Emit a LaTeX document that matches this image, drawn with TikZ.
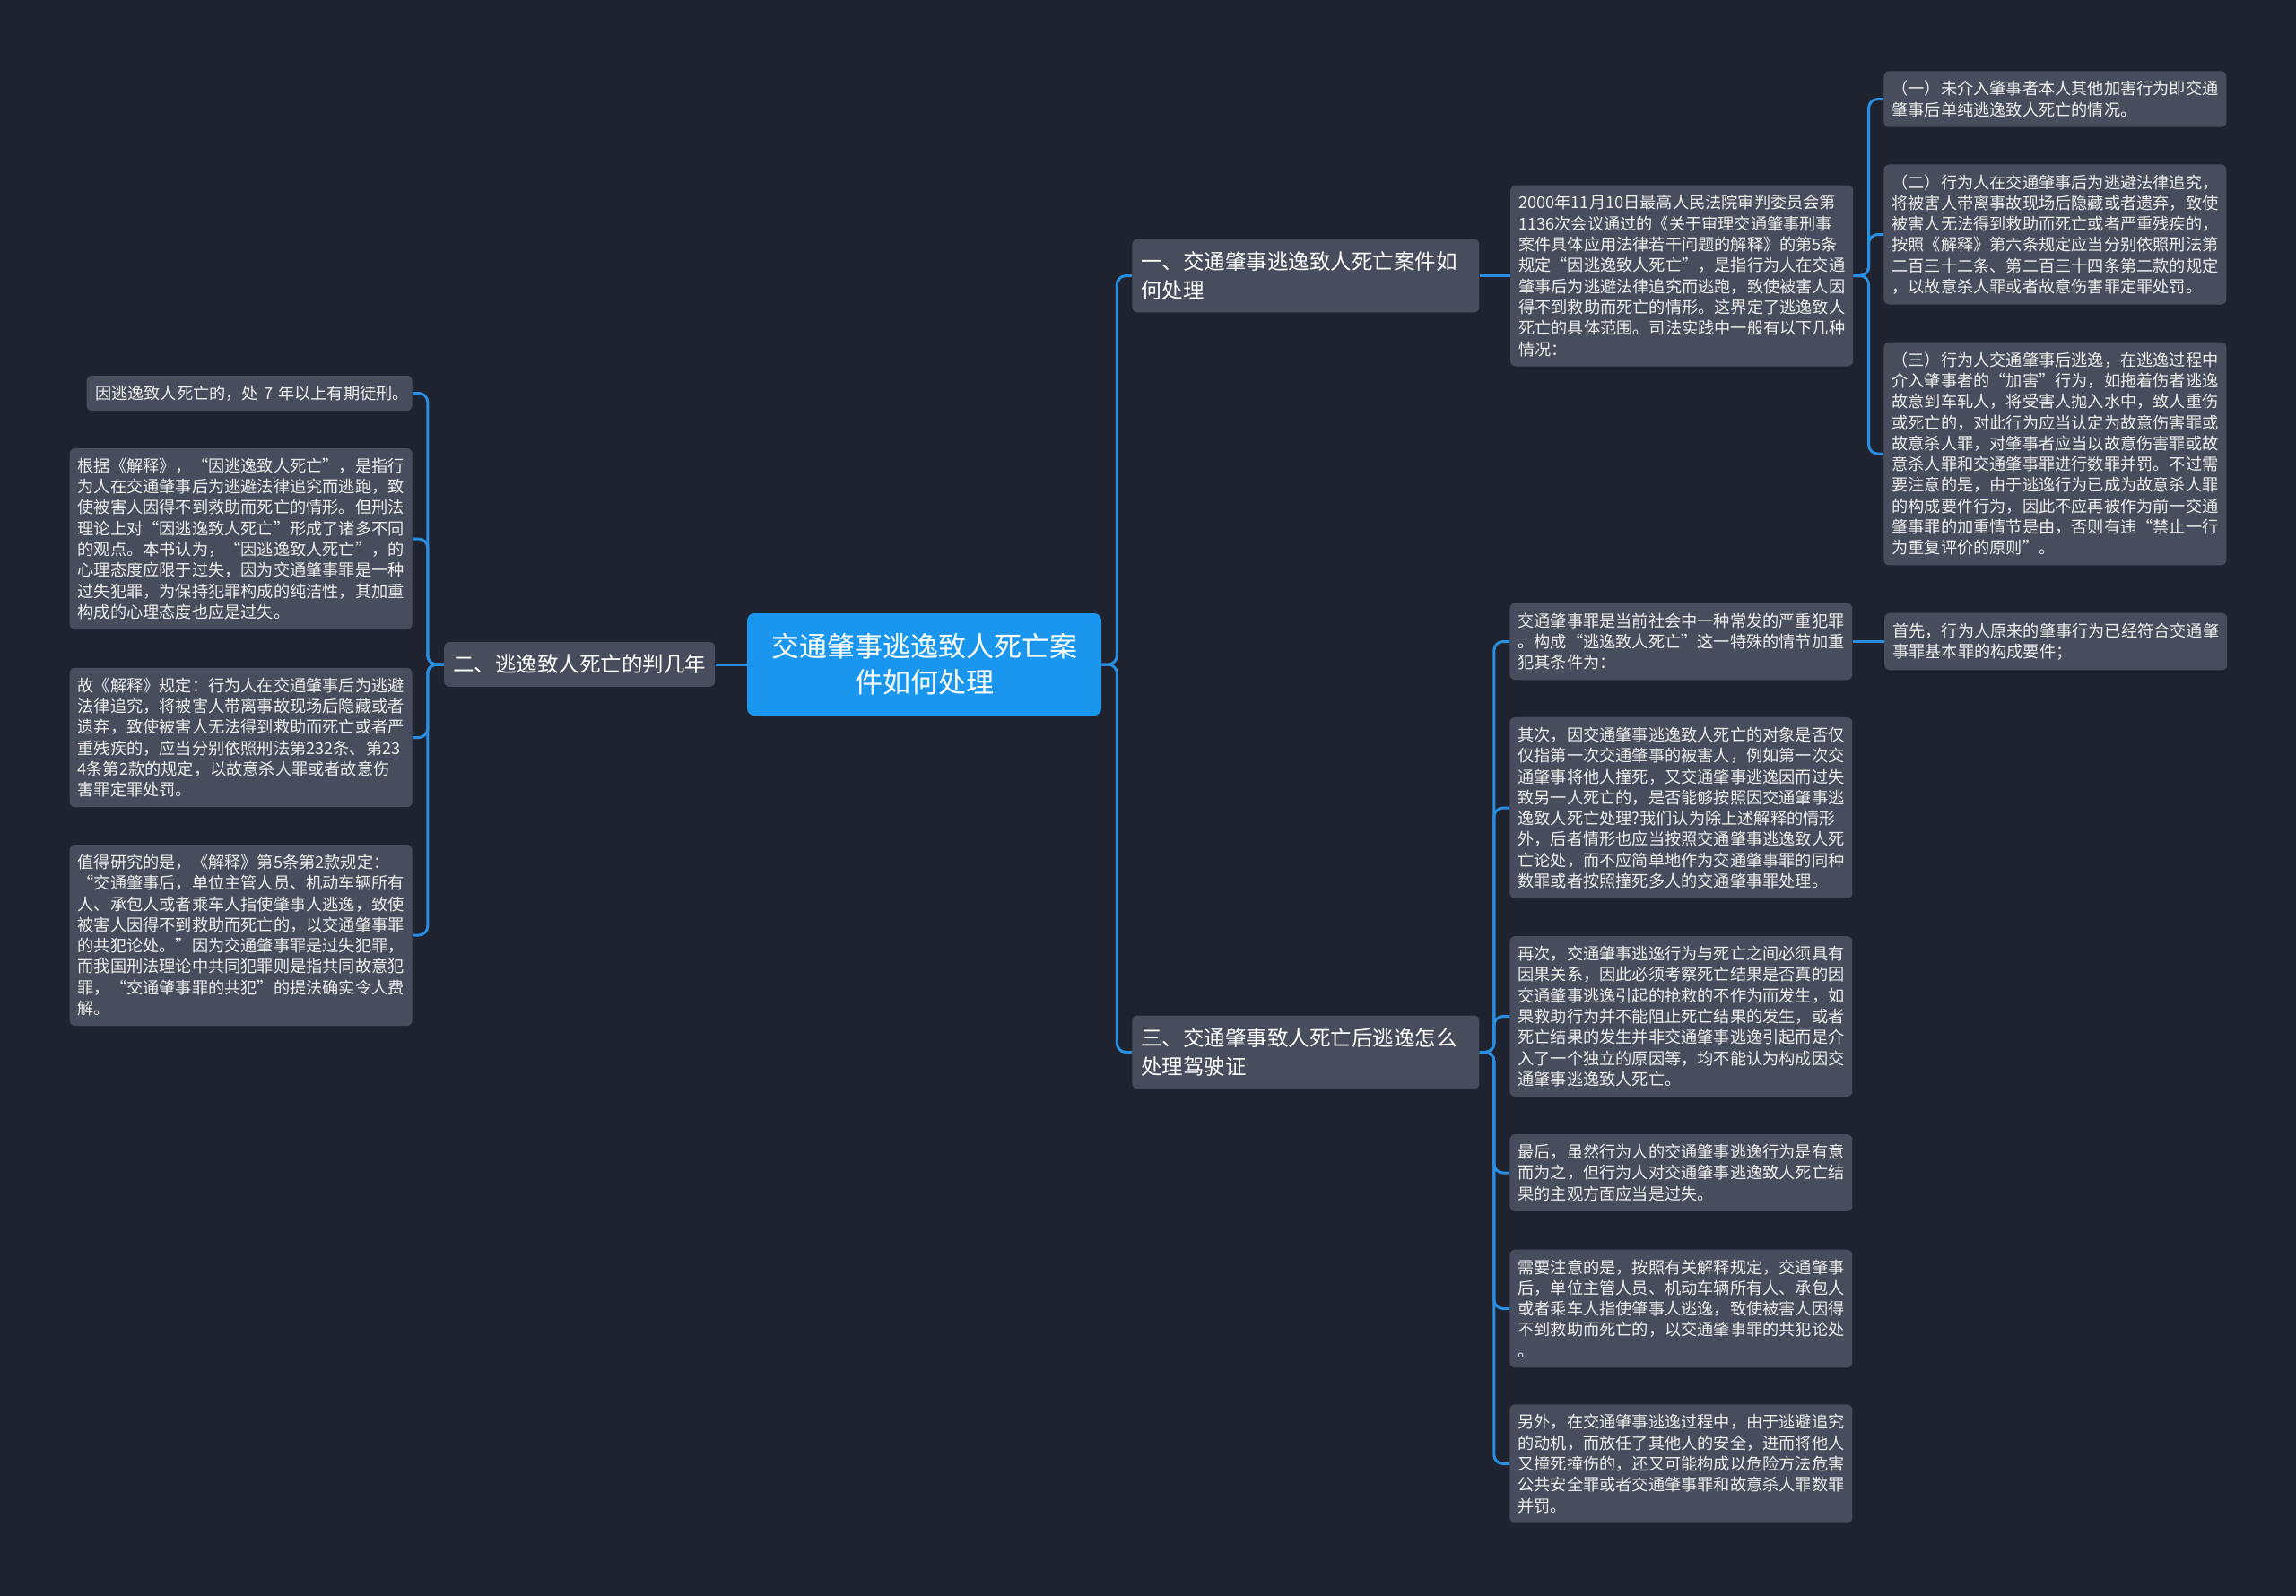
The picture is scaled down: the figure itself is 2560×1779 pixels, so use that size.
\documentclass[tikz,border=0pt]{standalone}
\usepackage{fontspec}
\setmainfont{Noto Sans CJK SC}
\usetikzlibrary{positioning}
\definecolor{BgNavy}{HTML}{1F2330}
\definecolor{BoxGray}{HTML}{474D5C}
\definecolor{RootBlue}{HTML}{1A96EF}
\definecolor{LinkBlue}{HTML}{2A8EE0}
\definecolor{TextLight}{HTML}{EDEDED}

\begin{document}
\begin{tikzpicture}[x=0.5pt, y=-0.5pt,
    leaf/.style={fill=BoxGray, rounded corners=3pt, text=TextLight, text width=182pt, align=left, inner xsep=4.5pt, inner ysep=5.5pt, font=\fontsize{9.1pt}{11.65pt}\selectfont},
    branch/.style={fill=BoxGray, rounded corners=3pt, text=white, align=left, inner xsep=5pt, inner ysep=7pt, font=\fontsize{11.75pt}{16pt}\selectfont},
    link/.style={draw=LinkBlue, line width=1.5pt, rounded corners=5pt}]
    \useasboundingbox (0,0) rectangle (2560,1779);
    \fill[BgNavy] (-6,-6) rectangle (2566,1785);

    % centre and first level
    \node[fill=RootBlue, rounded corners=4pt, text=white, text width=171pt, minimum width=197.5pt, minimum height=57pt, align=center, font=\fontsize{15.5pt}{20pt}\selectfont] (root) at (1030.5,741) {交通肇事逃逸致人死亡案\\件如何处理};
    \node[branch, left=17.5pt of root] (b2) {二、逃逸致人死亡的判几年};
    \node[branch, text width=183.5pt, anchor=west] (b1) at (1262,307.5) {一、交通肇事逃逸致人死亡案件如\\何处理};
    \node[branch, text width=183.5pt, anchor=west] (b3) at (1262,1173.5) {三、交通肇事致人死亡后逃逸怎么\\处理驾驶证};

    % left side
    \node[leaf, text width=176pt, inner xsep=2.75pt, anchor=east] (l1) at (460,438.5) {\hspace*{2pt}因逃逸致人死亡的，处~7~年以上有期徒刑。};
    \node[leaf, anchor=east] (l2) at (460,601) {根据《解释》，“因逃逸致人死亡”，是指行\\为人在交通肇事后为逃避法律追究而逃跑，致\\使被害人因得不到救助而死亡的情形。但刑法\\理论上对“因逃逸致人死亡”形成了诸多不同\\的观点。本书认为，“因逃逸致人死亡”，的\\心理态度应限于过失，因为交通肇事罪是一种\\过失犯罪，为保持犯罪构成的纯洁性，其加重\\构成的心理态度也应是过失。};
    \node[leaf, anchor=east] (l3) at (460,822.5) {故《解释》规定：行为人在交通肇事后为逃避\\法律追究，将被害人带离事故现场后隐藏或者\\遗弃，致使被害人无法得到救助而死亡或者严\\重残疾的，应当分别依照刑法第232条、第23\\4条第2款的规定，以故意杀人罪或者故意伤\\害罪定罪处罚。};
    \node[leaf, anchor=east] (l4) at (460,1043) {值得研究的是，《解释》第5条第2款规定：\\“交通肇事后，单位主管人员、机动车辆所有\\人、承包人或者乘车人指使肇事人逃逸，致使\\被害人因得不到救助而死亡的，以交通肇事罪\\的共犯论处。”因为交通肇事罪是过失犯罪，\\而我国刑法理论中共同犯罪则是指共同故意犯\\罪，“交通肇事罪的共犯”的提法确实令人费\\解。};

    % upper right
    \node[leaf, right=17pt of b1] (r1) {2000年11月10日最高人民法院审判委员会第\\1136次会议通过的《关于审理交通肇事刑事\\案件具体应用法律若干问题的解释》的第5条\\规定“因逃逸致人死亡”，是指行为人在交通\\肇事后为逃避法律追究而逃跑，致使被害人因\\得不到救助而死亡的情形。这界定了逃逸致人\\死亡的具体范围。司法实践中一般有以下几种\\情况：};
    \node[leaf, anchor=west] (c1) at (2100,110.5) {（一）未介入肇事者本人其他加害行为即交通\\肇事后单纯逃逸致人死亡的情况。};
    \node[leaf, anchor=west] (c2) at (2100,261.5) {（二）行为人在交通肇事后为逃避法律追究，\\将被害人带离事故现场后隐藏或者遗弃，致使\\被害人无法得到救助而死亡或者严重残疾的，\\按照《解释》第六条规定应当分别依照刑法第\\二百三十二条、第二百三十四条第二款的规定\\，以故意杀人罪或者故意伤害罪定罪处罚。};
    \node[leaf, anchor=west] (c3) at (2100,506) {（三）行为人交通肇事后逃逸，在逃逸过程中\\介入肇事者的“加害”行为，如拖着伤者逃逸\\故意到车轧人，将受害人抛入水中，致人重伤\\或死亡的，对此行为应当认定为故意伤害罪或\\故意杀人罪，对肇事者应当以故意伤害罪或故\\意杀人罪和交通肇事罪进行数罪并罚。不过需\\要注意的是，由于逃逸行为已成为故意杀人罪\\的构成要件行为，因此不应再被作为前一交通\\肇事罪的加重情节是由，否则有违“禁止一行\\为重复评价的原则”。};

    % lower right
    \node[leaf, anchor=west] (d1) at (1683,715.5) {交通肇事罪是当前社会中一种常发的严重犯罪\\。构成“逃逸致人死亡”这一特殊的情节加重\\犯其条件为：};
    \node[leaf, right=17.5pt of d1] (e1) {首先，行为人原来的肇事行为已经符合交通肇\\事罪基本罪的构成要件；};
    \node[leaf, anchor=west] (d2) at (1683,901) {其次，因交通肇事逃逸致人死亡的对象是否仅\\仅指第一次交通肇事的被害人，例如第一次交\\通肇事将他人撞死，又交通肇事逃逸因而过失\\致另一人死亡的，是否能够按照因交通肇事逃\\逸致人死亡处理?我们认为除上述解释的情形\\外，后者情形也应当按照交通肇事逃逸致人死\\亡论处，而不应简单地作为交通肇事罪的同种\\数罪或者按照撞死多人的交通肇事罪处理。};
    \node[leaf, anchor=west] (d3) at (1683,1133.5) {再次，交通肇事逃逸行为与死亡之间必须具有\\因果关系，因此必须考察死亡结果是否真的因\\交通肇事逃逸引起的抢救的不作为而发生，如\\果救助行为并不能阻止死亡结果的发生，或者\\死亡结果的发生并非交通肇事逃逸引起而是介\\入了一个独立的原因等，均不能认为构成因交\\通肇事逃逸致人死亡。};
    \node[leaf, anchor=west] (d4) at (1683,1308) {最后，虽然行为人的交通肇事逃逸行为是有意\\而为之，但行为人对交通肇事逃逸致人死亡结\\果的主观方面应当是过失。};
    \node[leaf, anchor=west] (d5) at (1683,1459.5) {需要注意的是，按照有关解释规定，交通肇事\\后，单位主管人员、机动车辆所有人、承包人\\或者乘车人指使肇事人逃逸，致使被害人因得\\不到救助而死亡的，以交通肇事罪的共犯论处\\。};
    \node[leaf, anchor=west] (d6) at (1683,1632.5) {另外，在交通肇事逃逸过程中，由于逃避追究\\的动机，而放任了其他人的安全，进而将他人\\又撞死撞伤的，还又可能构成以危险方法危害\\公共安全罪或者交通肇事罪和故意杀人罪数罪\\并罚。};

    % connectors
    \draw[link] (root.west) -- (b2.east);
    \foreach \t in {b1,b3}
        \draw[link] (root.east) -- ++(8.5pt,0) |- (\t.west);
    \foreach \t in {l1,l2,l3,l4}
        \draw[link] (b2.west) -- ++(-9pt,0) |- (\t.east);
    \draw[link] (b1.east) -- (r1.west);
    \foreach \t in {c1,c2,c3}
        \draw[link] (r1.east) -- ++(8.5pt,0) |- (\t.west);
    \foreach \t in {d1,d2,d3,d4,d5,d6}
        \draw[link] (b3.east) -- ++(8pt,0) |- (\t.west);
    \draw[link] (d1.east) -- (e1.west);
\end{tikzpicture}
\end{document}
